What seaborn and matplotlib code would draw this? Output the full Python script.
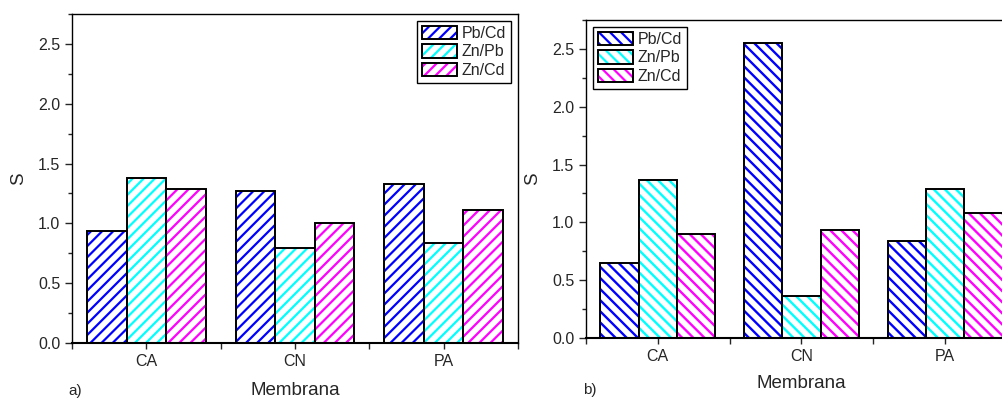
import numpy as np
import pandas as pd
import seaborn as sns
import matplotlib.pyplot as plt
from matplotlib.colors import to_rgba
from matplotlib.ticker import MultipleLocator, FormatStrFormatter

# data
membranes = ["CA", "CN", "PA"]
ratios = ["Pb/Cd", "Zn/Pb", "Zn/Cd"]
s_a = {"Pb/Cd": [0.94, 1.27, 1.33], "Zn/Pb": [1.38, 0.79, 0.84], "Zn/Cd": [1.29, 1.00, 1.11]}
s_b = {"Pb/Cd": [0.65, 2.55, 0.84], "Zn/Pb": [1.37, 0.36, 1.29], "Zn/Cd": [0.90, 0.93, 1.08]}
hatch_colors = ["#0000ff", "#00ffff", "#ff00ff"]

sns.set_style("ticks")
plt.rcParams['font.family'] = ['Liberation Sans', 'DejaVu Sans']
plt.rcParams['hatch.linewidth'] = 1.6


def to_long(values):
    rows = []
    for r in ratios:
        for m, v in zip(membranes, values[r]):
            rows.append({"Membrana": m, "ratio": r, "S": v})
    return pd.DataFrame(rows)


def draw_panel(ax, values, hatch, hatch_lw, legend_loc, xpad):
    df = to_long(values)
    sns.barplot(data=df, x="Membrana", y="S", hue="ratio", order=membranes,
                hue_order=ratios, palette=["white"] * 3, saturation=1,
                errorbar=None, width=0.8, legend=False, ax=ax)
    # white bars, coloured hatching, black outline
    for cont, col in zip(ax.containers, hatch_colors):
        for p in cont.patches:
            p.set_facecolor("white")
            p.set_edgecolor("black")
            p.set_linewidth(1.4)
            p.set_hatch(hatch)
            if hasattr(p, "set_hatch_linewidth"):
                p.set_hatch_linewidth(hatch_lw)
            p._hatch_color = to_rgba(col)
    ax.set_ylim(0, 2.75)
    ax.set_xlim(-0.5, 2.5)
    ax.yaxis.set_major_locator(MultipleLocator(0.5))
    ax.yaxis.set_minor_locator(MultipleLocator(0.25))
    ax.yaxis.set_major_formatter(FormatStrFormatter('%.1f'))
    ax.set_xticks([-0.5, 0.5, 1.5, 2.5], minor=True)
    ax.tick_params(axis='x', which='major', length=4, width=1, pad=4, labelsize=11.5)
    ax.tick_params(axis='x', which='minor', length=4, width=1)
    ax.tick_params(axis='y', which='major', length=5, width=1, labelsize=11.5)
    ax.tick_params(axis='y', which='minor', length=3, width=1)
    for s in ax.spines.values():
        s.set_visible(True)
        s.set_linewidth(1.0)
        s.set_color("black")
    ax.spines['bottom'].set_linewidth(1.5)
    ax.set_xlabel("Membrana", fontsize=13.5, labelpad=xpad)
    ax.set_ylabel("S", fontsize=13.5, labelpad=8)
    handles = [c.patches[0] for c in ax.containers]
    leg = ax.legend(handles, ratios, loc=legend_loc, fontsize=11.5, frameon=True,
                    fancybox=False, edgecolor="black", framealpha=1,
                    handlelength=2.2, handleheight=0.9, labelspacing=0.2,
                    handletextpad=0.3, borderpad=0.3, borderaxespad=0.45)
    leg.get_frame().set_linewidth(1.0)


fig = plt.figure(figsize=(10.03, 3.98), dpi=100)
ax_a = fig.add_axes([0.0718, 0.1382, 0.4446, 0.8266])
ax_b = fig.add_axes([0.5842, 0.1508, 0.4297, 0.7989])

draw_panel(ax_a, s_a, "///", 1.6, "upper right", 9)
draw_panel(ax_b, s_b, "\\\\\\", 1.7, "upper left", 8)

fig.text(0.068, 0.018, "a)", fontsize=11, va="center")
fig.text(0.581, 0.02, "b)", fontsize=11, va="center")

fig.savefig("out.png", dpi=100)
